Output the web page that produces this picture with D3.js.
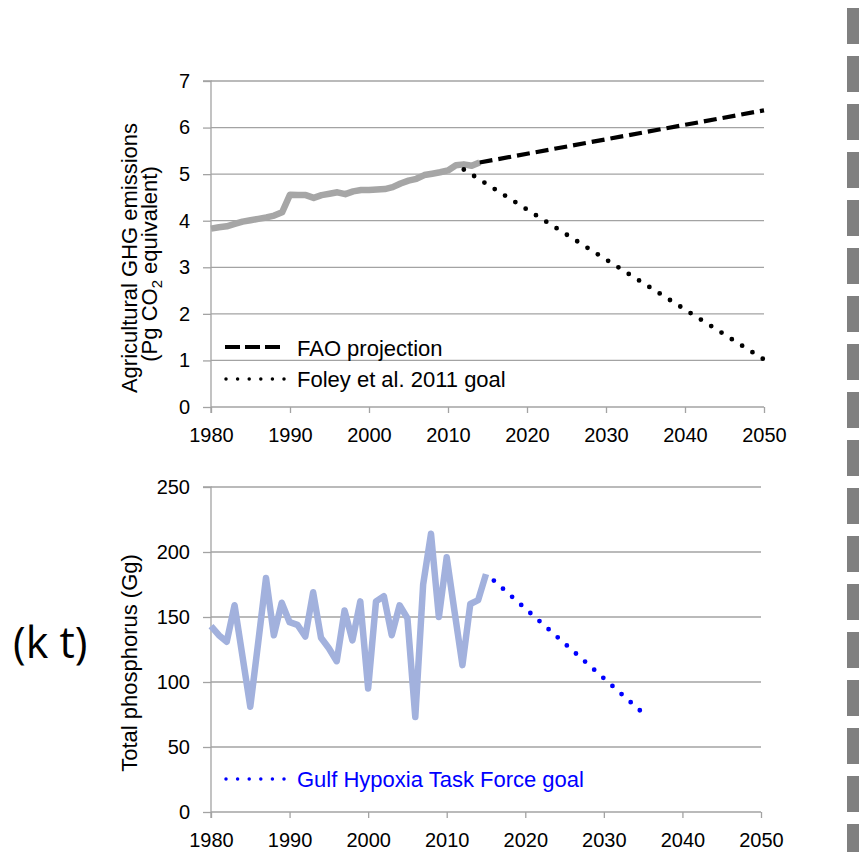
<!DOCTYPE html>
<html><head><meta charset="utf-8">
<script src="https://cdn.jsdelivr.net/npm/d3@7"></script>
<style>
html,body{margin:0;padding:0;background:#fff;}
svg{display:block;font-family:"Liberation Sans",Arial,Helvetica,sans-serif;}
</style></head>
<body>
<svg id="c" width="860" height="852"></svg>
<script>
// ---------- data ----------
const ghgYears = d3.range(1980, 2015);
const ghgValues = [3.83,3.86,3.88,3.93,3.98,4.01,4.04,4.07,4.11,4.18,4.56,4.55,4.55,4.49,4.55,4.58,4.61,4.57,4.63,4.66,4.66,4.67,4.68,4.72,4.80,4.86,4.90,4.98,5.01,5.04,5.08,5.19,5.21,5.18,5.25];
const faoYears = [2014, 2050];
const faoValues = [5.25, 6.37];
const foleyYears = [2012, 2050];
const foleyValues = [5.10, 1.02];
const phosYears = d3.range(1980, 2016);
const phosValues = [143,136,131,159,120,81,130,180,136,161,146,144,135,169,134,126,116,155,132,162,95,162,166,136,159,149,73,175,214,150,196,154,113,160,163,183];
const gulfYears = [2016, 2035];
const gulfValues = [178, 76];
const xTicks = [1980,1990,2000,2010,2020,2030,2040,2050];
const ghgTicks = [0,1,2,3,4,5,6,7];
const phosTicks = [0,50,100,150,200,250];
const legendTop = ["FAO projection", "Foley et al. 2011 goal"];
const legendBottom = ["Gulf Hypoxia Task Force goal"];

const svg = d3.select("#c");
const gridColor = "#a3a3a3";
const tickFont = 20;
const labelFont = 22;

function panel(opts){
  const x = d3.scaleLinear().domain([1980,2050]).range(opts.xr);
  const y = d3.scaleLinear().domain(opts.yd).range(opts.yr);
  const g = svg.append("g");
  g.selectAll("line.grid").data(opts.yTicks.filter(d=>d!==opts.yd[0])).join("line")
    .attr("x1", opts.xr[0]).attr("x2", opts.xr[1])
    .attr("y1", d=>y(d)).attr("y2", d=>y(d))
    .attr("stroke", gridColor).attr("stroke-width", 1.3);
  const ya = g.append("g").attr("transform",`translate(${opts.xr[0]},0)`)
    .call(d3.axisLeft(y).tickValues(opts.yTicks).tickFormat(d3.format("d")).tickSize(8).tickPadding(13));
  ya.select(".domain").attr("stroke", gridColor).attr("stroke-width",1.3).attr("d", `M-8,${opts.yr[1]}H0V${opts.yr[0]+6}`);
  ya.selectAll(".tick line").attr("stroke", gridColor).attr("stroke-width",1.3);
  ya.selectAll("text").attr("font-size", tickFont).attr("fill","#000").attr("font-family","Liberation Sans, Arial, sans-serif");
  const xa = g.append("g").attr("transform",`translate(0,${opts.yr[0]})`)
    .call(d3.axisBottom(x).tickValues(xTicks).tickFormat(d3.format("d")).tickSize(6).tickPadding(15));
  xa.select(".domain").attr("stroke", gridColor).attr("stroke-width",1.3).attr("d", `M${opts.xr[0]},0H${opts.xr[1]}`);
  xa.selectAll(".tick line").attr("stroke", gridColor).attr("stroke-width",1.3);
  xa.selectAll("text").attr("font-size", tickFont).attr("fill","#000").attr("font-family","Liberation Sans, Arial, sans-serif");
  opts.title(g);
  return {x,y,g};
}

// ---------- top panel ----------
const topP = panel({xr:[211,764], yr:[407,81], yd:[0,7], yTicks:ghgTicks,
  title: g => {
    g.append("text").attr("transform","translate(137,258) rotate(-90)")
      .attr("text-anchor","middle").attr("font-size",labelFont).attr("fill","#000")
      .text("Agricultural GHG emissions");
    const t2 = g.append("text").attr("transform","translate(157,264) rotate(-90)")
      .attr("text-anchor","middle").attr("font-size",labelFont).attr("fill","#000");
    t2.append("tspan").text("(Pg CO");
    t2.append("tspan").attr("font-size",15).attr("dy",5).text("2");
    t2.append("tspan").attr("dy",-5).text(" equivalent)");
  }});
const lineT = d3.line().x(d=>topP.x(d[0])).y(d=>topP.y(d[1]));
topP.g.append("path").datum(ghgYears.map((yr,i)=>[yr,ghgValues[i]]))
  .attr("d", lineT).attr("fill","none").attr("stroke","#a6a6a6").attr("stroke-width",6.5).attr("stroke-linejoin","round");
topP.g.append("path").datum(faoYears.map((yr,i)=>[yr,faoValues[i]]))
  .attr("d", lineT).attr("fill","none").attr("stroke","#000").attr("stroke-width",4.2).attr("stroke-dasharray","13,6");
topP.g.append("path").datum(foleyYears.map((yr,i)=>[yr,foleyValues[i]]))
  .attr("d", lineT).attr("fill","none").attr("stroke","#000").attr("stroke-width",4.8).attr("stroke-linecap","round").attr("stroke-dasharray","0,12.2");
const lg = topP.g.append("g");
lg.append("line").attr("x1",225).attr("x2",285).attr("y1",347).attr("y2",347)
  .attr("stroke","#000").attr("stroke-width",4.2).attr("stroke-dasharray","15,5");
lg.append("line").attr("x1",226).attr("x2",285).attr("y1",379).attr("y2",379)
  .attr("stroke","#000").attr("stroke-width",3.5).attr("stroke-linecap","round").attr("stroke-dasharray","0,11.6");
lg.selectAll("text").data(legendTop).join("text")
  .attr("x",297).attr("y",(d,i)=>348+i*31).attr("dy","0.35em")
  .attr("font-size",labelFont).attr("fill","#000").text(d=>d);

// ---------- bottom panel ----------
const botP = panel({xr:[211,761], yr:[812,487], yd:[0,250], yTicks:phosTicks,
  title: g => g.append("text").attr("transform","translate(137,663) rotate(-90)")
      .attr("text-anchor","middle").attr("font-size",labelFont).attr("fill","#000")
      .text("Total phosphorus (Gg)")});
const lineB = d3.line().x(d=>botP.x(d[0])).y(d=>botP.y(d[1]));
botP.g.append("path").datum(phosYears.map((yr,i)=>[yr,phosValues[i]]))
  .attr("d", lineB).attr("fill","none").attr("stroke","#a2b1dd").attr("stroke-width",6.5).attr("stroke-linejoin","round");
botP.g.append("path").datum(gulfYears.map((yr,i)=>[yr,gulfValues[i]]))
  .attr("d", lineB).attr("fill","none").attr("stroke","#0000ff").attr("stroke-width",4.8).attr("stroke-linecap","round").attr("stroke-dasharray","0,12.2");
const lb = botP.g.append("g");
lb.append("line").attr("x1",226).attr("x2",285).attr("y1",779).attr("y2",779)
  .attr("stroke","#0000ff").attr("stroke-width",3.5).attr("stroke-linecap","round").attr("stroke-dasharray","0,11.6");
lb.selectAll("text").data(legendBottom).join("text")
  .attr("x",297).attr("y",779).attr("dy","0.35em")
  .attr("font-size",labelFont).attr("fill","#0000ff").text(d=>d);

svg.append("text").attr("x",13).attr("y",643).attr("dy","0.35em")
  .attr("font-family","Open Sans, Noto Sans, sans-serif").attr("font-size",43).attr("fill","#000").text("(k t)");

svg.append("line").attr("x1",853).attr("x2",853).attr("y1",8).attr("y2",852)
  .attr("stroke","#808080").attr("stroke-width",12).attr("stroke-dasharray","36,12");
</script>
</body></html>
